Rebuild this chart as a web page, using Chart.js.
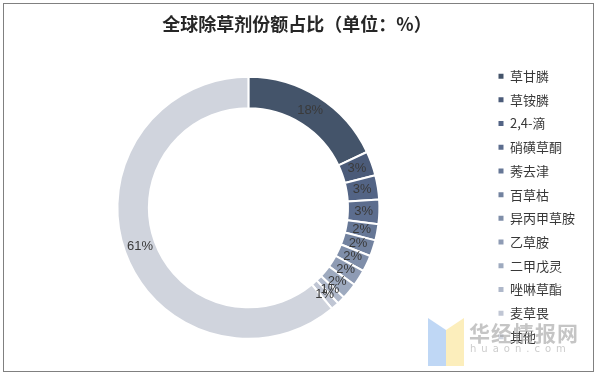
<!DOCTYPE html>
<html>
<head>
    <meta charset="utf-8">
    <title>全球除草剂份额占比</title>
    <script src="https://cdn.jsdelivr.net/npm/chart.js"></script>
    <style>
        body {
            margin: 0;
            background-color: #fff;
        }
        .chart-box {
            position: absolute;
            left: 0;
            top: 0;
            width: 599px;
            height: 378px;
        }
        .frame {
            position: absolute;
            left: 3px;
            top: 3px;
            width: 589px;
            height: 367px;
            border: 1px solid #808080;
            pointer-events: none;
        }
        .wm-blue, .wm-yellow {
            position: absolute;
            top: 318px;
            width: 18px;
            height: 48px;
            opacity: 0.75;
        }
        .wm-blue {
            left: 428px;
            background: #a9c9f2;
            clip-path: polygon(0 0, 100% 25%, 100% 100%, 0 100%);
        }
        .wm-yellow {
            left: 446px;
            background: #fbe8a6;
            clip-path: polygon(0 25%, 100% 0, 100% 100%, 0 100%);
        }
        .wm-text {
            position: absolute;
            left: 469px;
            top: 317px;
            font-family: "Noto Sans CJK SC", sans-serif;
            font-weight: bold;
            font-size: 21px;
            letter-spacing: 1px;
            color: rgba(150, 150, 150, 0.55);
        }
        .wm-url {
            position: absolute;
            left: 470px;
            top: 343px;
            font-family: "DejaVu Sans", sans-serif;
            font-size: 10px;
            letter-spacing: 5px;
            color: rgba(170, 170, 170, 0.6);
        }
    </style>
</head>
<body>
    <div class="chart-box">
        <canvas id="shareChart" width="599" height="378"></canvas>
    </div>
    <div class="frame"></div>
    <div class="wm-blue"></div>
    <div class="wm-yellow"></div>
    <div class="wm-text">华经情报网</div>
    <div class="wm-url">huaon.com</div>

    <script>
        const herbicides = ['草甘膦', '草铵膦', '2,4-滴', '硝磺草酮', '莠去津', '百草枯',
            '异丙甲草胺', '乙草胺', '二甲戊灵', '唑啉草酯', '麦草畏', '其他'];
        const shares = [18, 3, 3, 3, 2, 2, 2, 2, 2, 1, 1, 61];
        const sliceColors = ['#44546a', '#4b5b79', '#536485', '#5c6d8e', '#667796', '#72829f',
            '#7f8ea9', '#8e9bb4', '#9eaabf', '#afb8ca', '#c0c6d4', '#d0d4dd'];

        // percentage text in the middle of each ring segment
        const pctLabels = {
            id: 'pctLabels',
            afterDatasetsDraw(chart) {
                const ctx = chart.ctx;
                const meta = chart.getDatasetMeta(0);
                ctx.save();
                ctx.font = '13px "Liberation Sans", Arial, sans-serif';
                ctx.fillStyle = '#3a3a3a';
                ctx.textAlign = 'center';
                ctx.textBaseline = 'middle';
                meta.data.forEach((arc, i) => {
                    const p = arc.tooltipPosition();
                    ctx.fillText(shares[i] + '%', p.x, p.y);
                });
                ctx.restore();
            }
        };

        const defaultLabels = Chart.overrides.doughnut.plugins.legend.labels.generateLabels;

        new Chart(document.getElementById('shareChart'), {
            type: 'doughnut',
            data: {
                labels: herbicides,
                datasets: [{
                    data: shares,
                    backgroundColor: sliceColors,
                    borderColor: '#ffffff',
                    borderWidth: 2
                }]
            },
            options: {
                responsive: false,
                animation: false,
                events: [],
                radius: 131,
                cutout: '76%',
                layout: {
                    padding: { left: 9, right: 14, top: 0, bottom: 2 }
                },
                plugins: {
                    title: {
                        display: true,
                        text: '全球除草剂份额占比（单位：%）',
                        color: '#262626',
                        font: { family: '"Noto Sans CJK SC", sans-serif', size: 18, weight: 'bold', lineHeight: 1.2 },
                        padding: { top: 13, bottom: 5 }
                    },
                    legend: {
                        position: 'right',
                        // empty title only pushes the items down
                        title: {
                            display: true,
                            text: '',
                            font: { size: 1, lineHeight: 1 },
                            padding: { top: 36, bottom: 0 }
                        },
                        labels: {
                            boxWidth: 5,
                            boxHeight: 5,
                            padding: 10.7,
                            color: '#383838',
                            font: { family: '"Noto Sans CJK SC", sans-serif', size: 13 },
                            generateLabels(chart) {
                                return defaultLabels(chart).map(item => ({ ...item, lineWidth: 0 }));
                            }
                        }
                    },
                    tooltip: { enabled: false }
                }
            },
            plugins: [pctLabels]
        });
    </script>
</body>
</html>
